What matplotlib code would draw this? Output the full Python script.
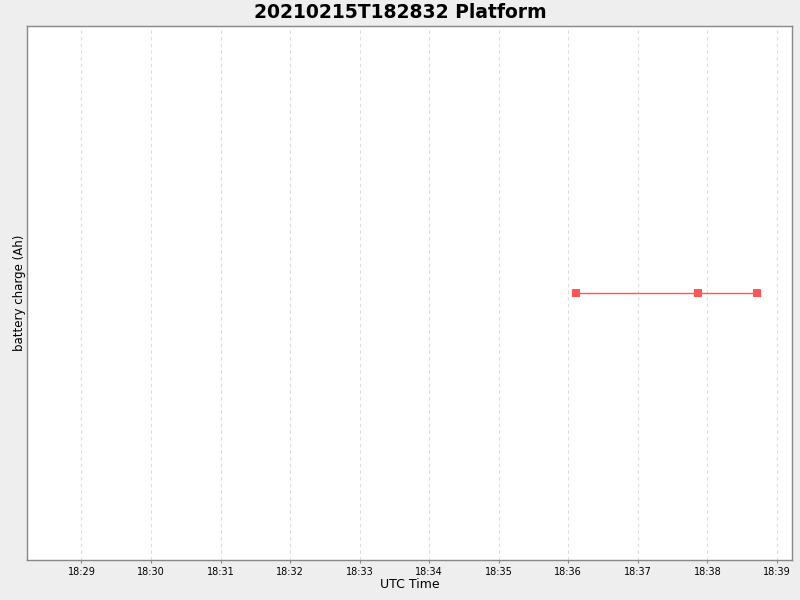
import matplotlib
matplotlib.use('Agg')
import matplotlib.pyplot as plt
import matplotlib.dates as mdates
from datetime import datetime

times = ['2021-02-15 18:36:07', '2021-02-15 18:37:52', '2021-02-15 18:38:43']
charge = [0.0, 0.0, 0.0]
x_start = '2021-02-15 18:28:13'
x_end = '2021-02-15 18:39:13'

t = [datetime.strptime(s, '%Y-%m-%d %H:%M:%S') for s in times]

fig = plt.figure(figsize=(8, 6), dpi=100, facecolor='#eeeeee')
ax = fig.add_axes([27/800, 40/600, 765/800, 534/600])
ax.set_facecolor('white')

ax.plot(t, charge, color='#ff5555', linewidth=1, marker='s', markersize=5.5,
        markeredgewidth=0, markerfacecolor='#ff5555')

ax.set_xlim(datetime.strptime(x_start, '%Y-%m-%d %H:%M:%S'),
            datetime.strptime(x_end, '%Y-%m-%d %H:%M:%S'))
ax.set_ylim(-1, 1)
ax.xaxis.set_major_locator(mdates.MinuteLocator())
ax.xaxis.set_major_formatter(mdates.DateFormatter('%H:%M'))
ax.set_yticks([])
ax.tick_params(axis='x', labelsize=7, length=2, color='#888888', pad=3)
ax.grid(axis='x', color='#dddddd', linestyle=(0, (3, 3)), linewidth=0.8)

for s in ax.spines.values():
    s.set_color('#888888')
    s.set_linewidth(1)

ax.set_xlabel('UTC Time', fontsize=9, labelpad=1)
ax.set_ylabel('battery charge (Ah)', fontsize=8.5, labelpad=1)
fig.suptitle('20210215T182832 Platform', fontsize=13.5, fontweight='bold', y=0.995)

fig.savefig('out.png', dpi=100, facecolor=fig.get_facecolor())
